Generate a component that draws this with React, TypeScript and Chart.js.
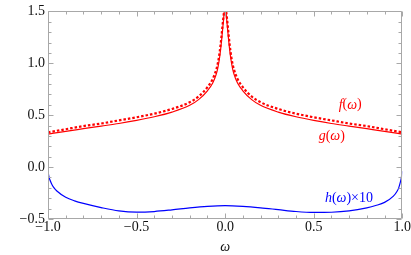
import { useEffect, useRef } from 'react';
import { Chart, registerables } from 'chart.js';

Chart.register(...registerables);

// ---- data ----
const omegaRed = [
  -1, -0.9, -0.8, -0.7, -0.6, -0.5, -0.4, -0.3, -0.2, -0.15, -0.1, -0.07, -0.05, -0.04, -0.03, -0.02, -0.015, -0.01, -0.005,
  0,
  0.005, 0.01, 0.015, 0.02, 0.03, 0.04, 0.05, 0.07, 0.1, 0.15, 0.2, 0.3, 0.4, 0.5, 0.6, 0.7, 0.8, 0.9, 1,
];
const fValues = [
  0.335, 0.365, 0.395, 0.42, 0.45, 0.48, 0.515, 0.56, 0.625, 0.68, 0.77, 0.85, 0.94, 1.01, 1.12, 1.27, 1.36, 1.44, 1.52,
  1.65,
  1.52, 1.44, 1.36, 1.27, 1.12, 1.01, 0.94, 0.85, 0.77, 0.68, 0.625, 0.56, 0.515, 0.48, 0.45, 0.42, 0.395, 0.365, 0.335,
];
const gValues = [
  0.318, 0.345, 0.37, 0.395, 0.42, 0.45, 0.485, 0.53, 0.595, 0.65, 0.735, 0.81, 0.895, 0.965, 1.07, 1.22, 1.31, 1.4, 1.5,
  1.65,
  1.5, 1.4, 1.31, 1.22, 1.07, 0.965, 0.895, 0.81, 0.735, 0.65, 0.595, 0.53, 0.485, 0.45, 0.42, 0.395, 0.37, 0.345, 0.318,
];
const omegaH = [
  -1, -0.995, -0.99, -0.98, -0.97, -0.95, -0.9, -0.85, -0.8, -0.7, -0.6, -0.5, -0.4, -0.3, -0.2, -0.1,
  0,
  0.1, 0.2, 0.3, 0.4, 0.5, 0.6, 0.7, 0.8, 0.85, 0.9, 0.95, 0.97, 0.98, 0.99, 0.995, 1,
];
const hValues = [
  -0.04, -0.09, -0.12, -0.16, -0.19, -0.23, -0.29, -0.325, -0.35, -0.39, -0.422, -0.434, -0.428, -0.412, -0.393, -0.378,
  -0.371,
  -0.378, -0.392, -0.41, -0.428, -0.437, -0.435, -0.422, -0.392, -0.37, -0.34, -0.28, -0.235, -0.2, -0.14, -0.1, -0.04,
];
const xTickValues = [-1, -0.5, 0, 0.5, 1];
const yTickValues = [-0.5, 0, 0.5, 1, 1.5];
const xTitle = 'ω';
// label runs: [text, italic]
const curveLabels = [
  { runs: [['f', true], ['(', false], ['ω', true], [')', false]], x: 0.706, y: 0.6, color: '#ff0000' },
  { runs: [['g', true], ['(', false], ['ω', true], [')', false]], x: 0.602, y: 0.296, color: '#ff0000' },
  { runs: [['h', true], ['(', false], ['ω', true], [')×10', false]], x: 0.699, y: -0.3, color: '#0000ff' },
];

const SERIF = "'Liberation Serif', 'Times New Roman', serif";
const FS = 14;
const FRAME = '#a8a8a8';
const TEXT = '#111111';

const fmt = (v: number) => {
  const s = Math.abs(v).toFixed(1);
  return v < 0 ? '\u2212' + s : s;
};

const framePlugin = {
  id: 'frameTicks',
  afterDraw(chart: any) {
    const { ctx, chartArea: a, scales } = chart;
    const x = scales.x;
    const y = scales.y;
    ctx.save();
    ctx.strokeStyle = FRAME;
    ctx.lineWidth = 1;
    const L = Math.round(a.left) + 0.5;
    const R = Math.round(a.right) - 0.5;
    const T = Math.round(a.top) + 0.5;
    const B = Math.round(a.bottom) - 0.5;
    ctx.beginPath();
    ctx.rect(L, T, R - L, B - T);
    for (let i = -10; i <= 10; i++) {
      const px = Math.round(x.getPixelForValue(i / 10)) + 0.5;
      const len = i % 5 === 0 ? 5 : 3;
      ctx.moveTo(px, B);
      ctx.lineTo(px, B - len);
      ctx.moveTo(px, T);
      ctx.lineTo(px, T + len);
    }
    for (let i = -5; i <= 15; i++) {
      const py = Math.round(y.getPixelForValue(i / 10)) + 0.5;
      const len = i % 5 === 0 ? 5 : 3;
      ctx.moveTo(L, py);
      ctx.lineTo(L + len, py);
      ctx.moveTo(R, py);
      ctx.lineTo(R - len, py);
    }
    ctx.stroke();

    ctx.textBaseline = 'middle';
    for (const lab of curveLabels) {
      const fontFor = (it: boolean) => `${it ? 'italic ' : ''}${FS}px ${SERIF}`;
      let total = 0;
      for (const [t, it] of lab.runs as [string, boolean][]) {
        ctx.font = fontFor(it);
        total += ctx.measureText(t).width;
      }
      let cx = x.getPixelForValue(lab.x) - total / 2;
      const cy = y.getPixelForValue(lab.y);
      ctx.fillStyle = lab.color;
      ctx.textAlign = 'left';
      for (const [t, it] of lab.runs as [string, boolean][]) {
        ctx.font = fontFor(it);
        ctx.fillText(t, cx, cy);
        cx += ctx.measureText(t).width;
      }
    }
    ctx.font = `italic ${FS}px ${SERIF}`;
    ctx.fillStyle = TEXT;
    ctx.textAlign = 'center';
    ctx.fillText(xTitle, (a.left + a.right) / 2, 247);
    ctx.restore();
  },
};

export default function App() {
  const ref = useRef<HTMLCanvasElement | null>(null);
  useEffect(() => {
    let chart: Chart | null = null;
    let cancelled = false;
    const build = () => {
      if (cancelled || !ref.current) return;
      chart = new Chart(ref.current, {
        type: 'line',
        data: {
          datasets: [
            {
              label: 'f',
              data: omegaRed.map((w, i) => ({ x: w, y: fValues[i] })),
              borderColor: '#ff0000',
              borderWidth: 2.2,
              borderDash: [2.5, 2],
              pointRadius: 0,
              cubicInterpolationMode: 'monotone',
              fill: false,
            },
            {
              label: 'g',
              data: omegaRed.map((w, i) => ({ x: w, y: gValues[i] })),
              borderColor: '#ff0000',
              borderWidth: 1.2,
              pointRadius: 0,
              cubicInterpolationMode: 'monotone',
              fill: false,
            },
            {
              label: 'h',
              data: omegaH.map((w, i) => ({ x: w, y: hValues[i] })),
              borderColor: '#0000ff',
              borderWidth: 1.2,
              pointRadius: 0,
              cubicInterpolationMode: 'monotone',
              fill: false,
            },
          ],
        },
        options: {
          animation: false,
          responsive: false,
          devicePixelRatio: 1,
          layout: { padding: { top: 6, right: 8, left: 0, bottom: 0 } },
          plugins: { legend: { display: false }, tooltip: { enabled: false } },
          elements: { line: { tension: 0 } },
          scales: {
            x: {
              type: 'linear',
              min: -1,
              max: 1,
              afterFit: (s: any) => { s.height = 36; },
              afterBuildTicks: (s: any) => { s.ticks = xTickValues.map((v) => ({ value: v })); },
              grid: { display: false, drawTicks: false },
              border: { display: false },
              ticks: {
                padding: 0,
                maxRotation: 0,
                autoSkip: false,
                color: TEXT,
                font: { family: SERIF, size: FS },
                callback: (v: any) => fmt(Number(v)),
              },
            },
            y: {
              type: 'linear',
              min: -0.5,
              max: 1.5,
              afterFit: (s: any) => { s.width = 48; },
              afterBuildTicks: (s: any) => { s.ticks = yTickValues.map((v) => ({ value: v })); },
              grid: { display: false, drawTicks: false },
              border: { display: false },
              ticks: {
                padding: 3,
                autoSkip: false,
                color: TEXT,
                font: { family: SERIF, size: FS },
                callback: (v: any) => fmt(Number(v)),
              },
            },
          },
        },
        plugins: [framePlugin],
      } as any);
    };
    const fonts: any = (document as any).fonts;
    if (fonts && fonts.load) {
      Promise.all([
        fonts.load(`${FS}px 'Liberation Serif'`),
        fonts.load(`italic ${FS}px 'Liberation Serif'`),
      ]).then(build, build);
    } else {
      build();
    }
    return () => {
      cancelled = true;
      if (chart) chart.destroy();
    };
  }, []);
  return (
    <div style={{ position: 'fixed', left: 0, top: 0, width: 411, height: 255, background: '#fff' }}>
      <canvas ref={ref} width={411} height={255} style={{ width: 411, height: 255, display: 'block' }} />
    </div>
  );
}
